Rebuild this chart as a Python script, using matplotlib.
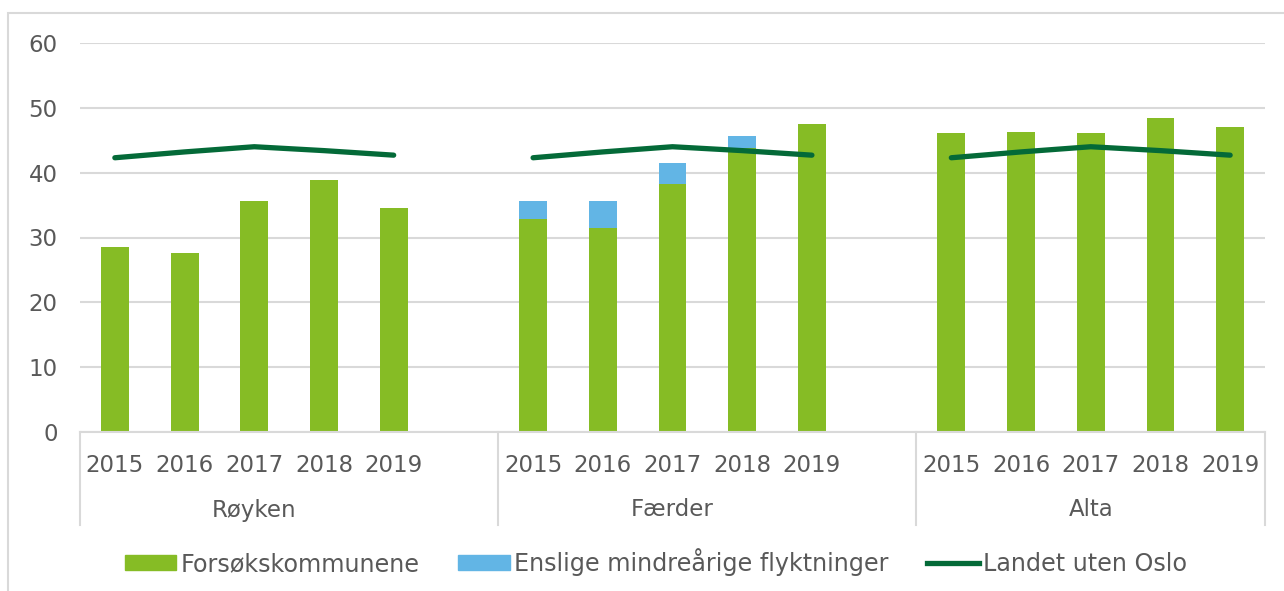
import matplotlib.pyplot as plt
from matplotlib.lines import Line2D
from matplotlib.patches import Patch, Rectangle
import matplotlib.transforms as mtransforms

# Data
groups = ['Røyken', 'Færder', 'Alta']
years = ['2015', '2016', '2017', '2018', '2019']
forsok = {
    'Røyken': [28.5, 27.6, 35.7, 38.9, 34.5],
    'Færder': [32.9, 31.5, 38.3, 43.8, 47.5],
    'Alta': [46.1, 46.3, 46.1, 48.5, 47.1],
}
enslige = {
    'Røyken': [0, 0, 0, 0, 0],
    'Færder': [2.7, 4.2, 3.2, 1.8, 0],
    'Alta': [0, 0, 0, 0, 0],
}
landet = [42.3, 43.2, 44.0, 43.4, 42.7]

green = '#86BC25'
blue = '#62B5E5'
dark = '#046A38'
grey_txt = '#595959'
grid_c = '#d9d9d9'

plt.rcParams['font.family'] = ['DejaVu Sans']

fig = plt.figure(figsize=(12.84, 5.91), dpi=100)
ax = fig.add_axes([80 / 1284, 1 - 432 / 591, (1265 - 80) / 1284, (432 - 43) / 591])

# chart border
fig.patches.append(Rectangle((8 / 1284, -0.01), 1.0, 1 - 13 / 591 + 0.01,
                             transform=fig.transFigure, fill=False,
                             edgecolor=grid_c, lw=1.5))

xticks = []
xlabels = []
for gi, g in enumerate(groups):
    xs = [gi * 6 + i for i in range(len(years))]
    ax.bar(xs, forsok[g], width=0.4, color=green, zorder=2)
    ax.bar(xs, enslige[g], width=0.4, bottom=forsok[g], color=blue, zorder=2)
    ax.plot(xs, landet, color=dark, lw=3.8, solid_capstyle='round', zorder=3)
    xticks += xs
    xlabels += years

ax.set_xlim(-0.5, 16.5)
ax.set_ylim(0, 60)
ax.set_yticks(range(0, 61, 10))
ax.set_xticks(xticks)
ax.set_xticklabels(xlabels)
ax.tick_params(axis='both', length=0, labelsize=16.5, colors=grey_txt)
ax.tick_params(axis='y', pad=16)
ax.tick_params(axis='x', pad=16)
ax.grid(axis='y', color=grid_c, lw=1.5, zorder=0)
for s in ['left', 'right', 'top']:
    ax.spines[s].set_visible(False)
ax.spines['bottom'].set_color(grid_c)
ax.spines['bottom'].set_linewidth(1.5)

# group labels and separators
trans = mtransforms.blended_transform_factory(ax.transData, ax.transAxes)
sep_y = (432 - 525) / (432 - 43)
for xv in [-0.5, 5.5, 11.5, 16.5]:
    ax.plot([xv, xv], [0, sep_y], transform=trans, color=grid_c, lw=1.5, clip_on=False)
for gi, g in enumerate(groups):
    ax.text(gi * 6 + 2, (432 - 510) / (432 - 43), g, transform=trans,
            ha='center', va='center', fontsize=16.5, color=grey_txt)

handles = [Patch(color=green, label='Forsøkskommunene'),
           Patch(color=blue, label='Enslige mindreårige flyktninger'),
           Line2D([0], [0], color=dark, lw=3.8, label='Landet uten Oslo')]
leg = fig.legend(handles=handles, loc='center', bbox_to_anchor=(0.511, 1 - 562 / 591),
                 ncol=3, frameon=False, fontsize=17.2, handlelength=2.15,
                 handleheight=0.6, handletextpad=0.2, columnspacing=1.6)
for t in leg.get_texts():
    t.set_color(grey_txt)

fig.savefig('out.png', dpi=100)
